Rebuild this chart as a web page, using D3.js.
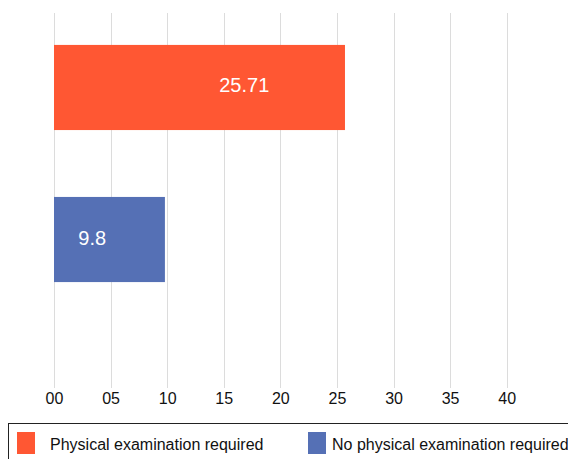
<!DOCTYPE html>
<html>
<head>
<meta charset="utf-8">
<script src="https://cdn.jsdelivr.net/npm/d3@7"></script>
<style>
  body { margin: 0; background: #fff; }
  svg { display: block; font-family: "Liberation Sans", Arial, Helvetica, sans-serif; }
  .grid line { stroke: #dcdcdc; stroke-width: 1; }
  .x.axis path, .x.axis line { display: none; }
  .x.axis text { font-size: 16px; fill: #111; }
</style>
</head>
<body>
<div id="chart"></div>
<script>
// chart data
var categories = ["Physical examination required", "No physical examination required"];
var values = [25.71, 9.8];
var valueLabels = ["25.71", "9.8"];
var colors = ["#ff5733", "#5570b5"];
var tickValues = [0, 5, 10, 15, 20, 25, 30, 35, 40];

var width = 568, height = 459;

// label sits at this fraction of the bar length
var labelFrac = [0.654, 0.345];

var svg = d3.select("#chart").append("svg")
    .attr("width", width)
    .attr("height", height);

var x = d3.scaleLinear()
    .domain([0, 40])
    .range([54, 506.7]);

var y = d3.scaleBand()
    .domain(categories)
    .range([13, 314])
    .paddingInner(0.44)
    .paddingOuter(0.21);

var gridTop = 13, gridBottom = 388;

// vertical grid lines
svg.append("g")
    .attr("class", "grid")
    .selectAll("line")
    .data(tickValues)
    .enter().append("line")
    .attr("x1", function (d) { return Math.round(x(d)) + 0.5; })
    .attr("x2", function (d) { return Math.round(x(d)) + 0.5; })
    .attr("y1", gridTop)
    .attr("y2", gridBottom);

// bars
var rows = categories.map(function (c, i) {
  return { name: c, value: values[i], label: valueLabels[i], color: colors[i], i: i };
});

svg.selectAll(".bar")
    .data(rows)
    .enter().append("rect")
    .attr("class", "bar")
    .attr("x", x(0))
    .attr("y", function (d) { return y(d.name); })
    .attr("width", function (d) { return x(d.value) - x(0); })
    .attr("height", y.bandwidth())
    .style("fill", function (d) { return d.color; });

svg.selectAll(".vlabel")
    .data(rows)
    .enter().append("text")
    .attr("class", "vlabel")
    .attr("x", function (d) { return x(0) + (x(d.value) - x(0)) * labelFrac[d.i]; })
    .attr("y", function (d) { return y(d.name) + y.bandwidth() / 2 + 5; })
    .attr("text-anchor", "middle")
    .style("font-size", "20px")
    .style("fill", "#fff")
    .text(function (d) { return d.label; });

// x axis
var xAxis = d3.axisBottom(x)
    .tickValues(tickValues)
    .tickFormat(d3.format("02d"))
    .tickSize(0)
    .tickPadding(0);

svg.append("g")
    .attr("class", "x axis")
    .attr("transform", "translate(0," + 392 + ")")
    .call(xAxis)
    .selectAll("text")
    .attr("dy", "0.76em");

// legend
var legend = svg.append("g").attr("class", "legend");
legend.append("rect")
    .attr("x", 8.5)
    .attr("y", 423.5)
    .attr("width", 600)
    .attr("height", 60)
    .style("fill", "none")
    .style("stroke", "#222")
    .style("stroke-width", 1);

var legendX = [17, 308];
var item = legend.selectAll(".item")
    .data(rows)
    .enter().append("g")
    .attr("class", "item")
    .attr("transform", function (d) { return "translate(" + legendX[d.i] + ",432)"; });

item.append("rect")
    .attr("width", 18)
    .attr("height", 22)
    .style("fill", function (d) { return d.color; });

item.append("text")
    .attr("x", function (d) { return d.i == 0 ? 33 : 24; })
    .attr("y", 18)
    .style("font-size", "16px")
    .style("fill", "#111")
    .text(function (d) { return d.name; });
</script>
</body>
</html>
